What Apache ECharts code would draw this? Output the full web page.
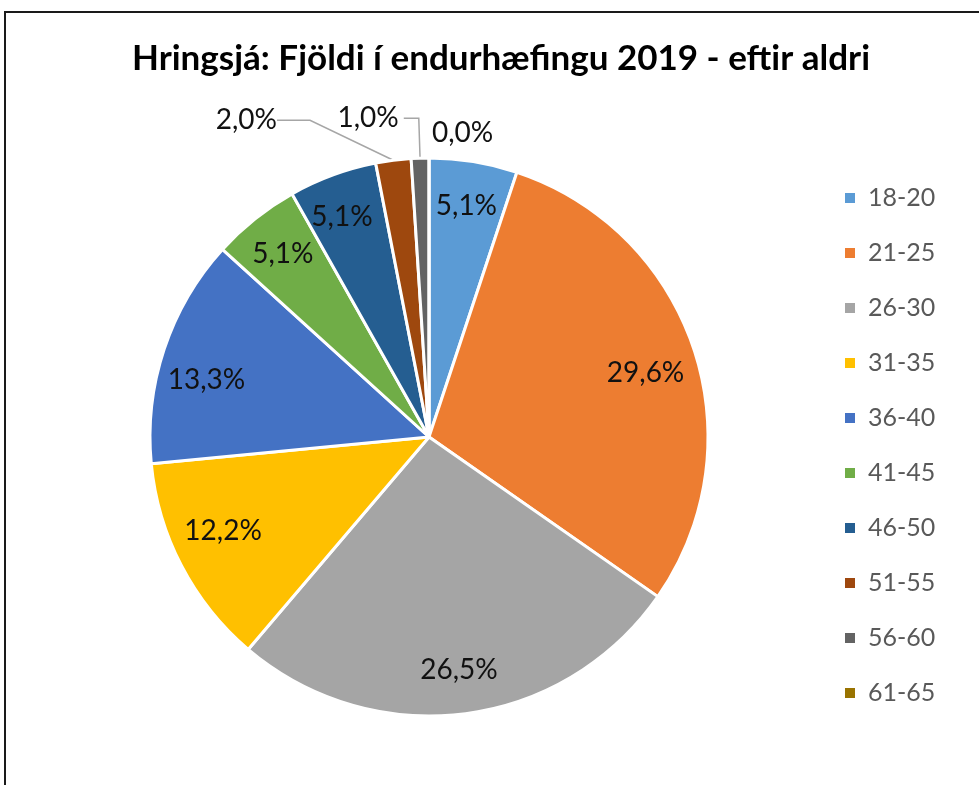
<!doctype html>
<html>
<head>
    <meta charset="UTF-8">
    <title>Hringsjá</title>
    <script src="https://cdn.jsdelivr.net/npm/echarts@6/dist/echarts.min.js"></script>
    <style>
        html, body { margin: 0; padding: 0; background: #fff; }
        #chart { width: 979px; height: 785px; }
    </style>
</head>
<body>
    <div id="chart"></div>
    <script type="text/javascript">
        // aldursbil og fjöldi (98 alls)
        var categories = ['18-20', '21-25', '26-30', '31-35', '36-40', '41-45', '46-50', '51-55', '56-60', '61-65'];
        var counts = [5, 29, 26, 12, 13, 5, 5, 2, 1, 0];
        var colors = ['#5B9BD5', '#ED7D31', '#A5A5A5', '#FFC000', '#4472C4', '#70AD47', '#255E91', '#9E480E', '#636363', '#997300'];

        var total = counts.reduce(function (a, b) { return a + b; }, 0);
        var fontName = 'Lato, "Open Sans", sans-serif';

        // litlar sneiðar fá merki utan við
        var outside = {
            7: { length: 10, length2: 33, show: true },
            8: { length: 40, length2: 15, show: true },
            9: { length: 25, length2: 0, show: false }
        };
        // smá tilfærsla á merkjum eins og í Excel
        var nudge = {
            1: [-6, 10],
            3: [2, -14],
            4: [0, 17],
            6: [-6, 0],
            7: [-77, -30],
            9: [8, 0]
        };

        function pct(v) {
            return (v / total * 100).toFixed(1).replace('.', ',') + '%';
        }

        var pieData = categories.map(function (name, i) {
            return { name: name, value: counts[i], itemStyle: { color: colors[i] } };
        });

        var labelData = categories.map(function (name, i) {
            var item = { name: name, value: counts[i] };
            if (outside[i]) {
                item.label = { position: 'outside' };
                item.labelLine = {
                    show: outside[i].show,
                    length: outside[i].length,
                    length2: outside[i].length2
                };
            }
            return item;
        });

        var myChart = echarts.init(document.getElementById('chart'));
        var option = {
            animation: false,
            color: colors,
            title: {
                text: 'Hringsjá: Fjöldi í endurhæfingu 2019 - eftir aldri',
                left: 496,
                textAlign: 'center',
                top: 36,
                textStyle: {
                    fontFamily: fontName,
                    fontWeight: 'bold',
                    fontSize: 35,
                    color: '#000'
                }
            },
            legend: {
                orient: 'vertical',
                left: 838,
                top: 178,
                icon: 'rect',
                itemWidth: 12,
                itemHeight: 12,
                itemGap: 25,
                selectedMode: false,
                data: categories,
                textStyle: {
                    fontFamily: fontName,
                    fontSize: 25,
                    lineHeight: 30,
                    color: '#595959',
                    padding: [0, 0, 0, 7]
                }
            },
            graphic: [{
                type: 'rect',
                shape: { x: 5, y: 12, width: 1100, height: 900 },
                style: { fill: 'none', stroke: '#1a1a1a', lineWidth: 2 },
                silent: true
            }],
            series: [
                {
                    type: 'pie',
                    center: [429, 437],
                    radius: 279,
                    startAngle: 90,
                    clockwise: true,
                    label: { show: false },
                    labelLine: { show: false },
                    itemStyle: { borderColor: '#fff', borderWidth: 3 },
                    data: pieData
                },
                {
                    // gagnsætt lag bara fyrir merkin
                    type: 'pie',
                    center: [429, 437],
                    radius: [184, 279],
                    startAngle: 90,
                    clockwise: true,
                    silent: true,
                    avoidLabelOverlap: false,
                    itemStyle: { color: 'rgba(0,0,0,0)' },
                    label: {
                        show: true,
                        position: 'inside',
                        fontFamily: fontName,
                        fontSize: 28,
                        color: '#111',
                        formatter: function (p) { return pct(p.value); }
                    },
                    labelLine: {
                        lineStyle: { color: '#A6A6A6', width: 1.5 }
                    },
                    labelLayout: function (p) {
                        var n = nudge[p.dataIndex];
                        if (!n) return;
                        var r = p.labelRect;
                        if (p.dataIndex === 7) {
                            // flytja merki og láta línuna fylgja
                            return {
                                x: r.x + r.width + n[0],
                                y: r.y + r.height / 2 + n[1]
                            };
                        }
                        if (p.dataIndex === 9) {
                            return { align: 'left', dx: n[0], dy: n[1] };
                        }
                        return { dx: n[0], dy: n[1] };
                    },
                    data: labelData
                }
            ]
        };
        myChart.setOption(option);
    </script>
</body>
</html>
